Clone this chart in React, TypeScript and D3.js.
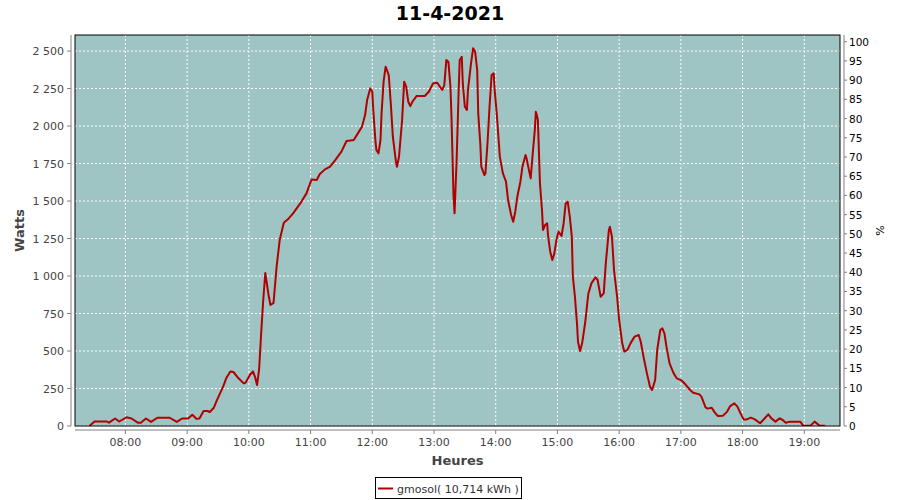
import React from "react";
import * as d3 from "d3";

const title = "11-4-2021";
const seriesName = "gmosol( 10,714 kWh )";

const times: string[] = [
  "07:25","07:30","07:42","07:44","07:50","07:54","08:01","08:06","08:12","08:15",
  "08:20","08:25","08:31","08:43","08:50","08:55","09:01","09:05","09:09","09:12",
  "09:16","09:20","09:22","09:26","09:29","09:35","09:38","09:42","09:45","09:50",
  "09:55","09:57","10:01","10:04","10:06","10:08","10:10","10:12","10:14","10:16",
  "10:19","10:21","10:24","10:27","10:30","10:34","10:38","10:43","10:50","10:56",
  "11:01","11:06","11:09","11:14","11:19","11:24","11:30","11:35","11:42","11:46",
  "11:50","11:53","11:55","11:58","12:00","12:01","12:03","12:04","12:06","12:08",
  "12:09","12:11","12:13","12:16","12:18","12:20","12:23","12:24","12:26","12:29",
  "12:31","12:33","12:35","12:37","12:39","12:43","12:51","12:55","12:59","13:03",
  "13:08","13:10","13:12","13:14","13:16","13:17","13:19","13:20","13:22","13:24",
  "13:25","13:27","13:28","13:30","13:32","13:33","13:36","13:38","13:40","13:42",
  "13:43","13:45","13:46","13:49","13:50","13:52","13:54","13:56","13:58","13:59",
  "14:01","14:04","14:07","14:10","14:12","14:15","14:17","14:19","14:21","14:24",
  "14:26","14:29","14:30","14:33","14:34","14:36","14:38","14:39","14:40","14:41",
  "14:43","14:45","14:46","14:48","14:50","14:51","14:53","14:55","14:57","14:59",
  "15:01","15:04","15:06","15:08","15:10","15:12","15:14","15:15","15:17","15:19",
  "15:20","15:22","15:24","15:27","15:30","15:33","15:37","15:39","15:42","15:45",
  "15:47","15:50","15:51","15:53","15:55","15:58","16:00","16:03","16:05","16:08",
  "16:11","16:15","16:19","16:21","16:24","16:27","16:30","16:32","16:35","16:37",
  "16:40","16:42","16:44","16:46","16:49","16:53","16:56","17:01","17:05","17:09",
  "17:12","17:18","17:20","17:24","17:26","17:30","17:33","17:36","17:41","17:45",
  "17:48","17:52","17:55","17:58","18:01","18:04","18:08","18:12","18:17","18:20",
  "18:25","18:28","18:32","18:36","18:39","18:42","18:46","18:56","18:59","19:06",
  "19:10","19:15","19:20"
];

const watts: number[] = [
  0, 30, 30, 22, 50, 30, 58, 50, 22, 22,
  50, 27, 55, 55, 27, 50, 50, 75, 48, 50,
  100, 100, 93, 122, 173, 262, 318, 364, 360, 318,
  284, 290, 340, 364, 328, 273, 380, 620, 840, 1020,
  880, 807, 820, 1062, 1240, 1355, 1378, 1418, 1484, 1551,
  1644, 1640, 1680, 1711, 1729, 1773, 1829, 1900, 1907, 1951,
  1996, 2073, 2173, 2251, 2229, 2107, 1907, 1840, 1818, 1907,
  2084, 2296, 2396, 2340, 2151, 1929, 1762, 1729, 1796, 2040,
  2296, 2262, 2162, 2133, 2162, 2200, 2200, 2229, 2284, 2289,
  2240, 2273, 2440, 2429, 2262, 2062, 1529, 1418, 1773, 2240,
  2440, 2462, 2284, 2129, 2107, 2240, 2418, 2518, 2496, 2373,
  2084, 1885, 1729, 1673, 1684, 1885, 2129, 2340, 2351, 2240,
  2084, 1796, 1684, 1629, 1507, 1407, 1362, 1429, 1529, 1629,
  1729, 1807, 1784, 1684, 1651, 1818, 1973, 2095, 2073, 2040,
  1618, 1440, 1307, 1340, 1351, 1262, 1162, 1107, 1151, 1240,
  1296, 1267, 1351, 1484, 1496, 1396, 1262, 996, 862, 684,
  562, 500, 551, 690, 880, 951, 991, 975, 862, 884,
  1084, 1307, 1329, 1262, 1040, 862, 707, 551, 496, 507,
  551, 596, 607, 562, 451, 351, 262, 240, 307, 507,
  640, 651, 618, 529, 418, 351, 318, 302, 273, 240,
  222, 211, 196, 124, 116, 122, 89, 67, 69, 96,
  133, 151, 129, 84, 44, 44, 56, 44, 18, 40,
  78, 51, 29, 51, 40, 22, 29, 29, 2, 2,
  29, 2, 2
];

const leftTicks: number[] = [0, 250, 500, 750, 1000, 1250, 1500, 1750, 2000, 2250, 2500];
const rightTicks: number[] = [0, 5, 10, 15, 20, 25, 30, 35, 40, 45, 50, 55, 60, 65, 70, 75, 80, 85, 90, 95, 100];

const toDate = (s: string) => {
  const [h, m] = s.split(":").map(Number);
  return new Date(2021, 3, 11, h, m, 0);
};

export default function App() {
  const W = 900, H = 500;
  const left = 75, right = 840, top = 35, bottom = 426;

  const x = d3.scaleTime()
    .domain([new Date(2021, 3, 11, 7, 11, 0), new Date(2021, 3, 11, 19, 34, 42)])
    .range([left, right]);
  const y = d3.scaleLinear().domain([0, 2607]).range([bottom, top]);
  const y2 = d3.scaleLinear().domain([0, 101.74]).range([bottom, top]);

  const xTicks = x.ticks(d3.timeHour.every(1) as any);
  const fmtX = d3.timeFormat("%H:%M");
  const fmtY = (v: number) => d3.format(",")(v).replace(/,/g, " ");

  const data = times.map((t, i) => ({ t: toDate(t), v: watts[i] }));
  const line = d3.line<{ t: Date; v: number }>()
    .x((d) => x(d.t))
    .y((d) => y(d.v));

  const tickFont = "DejaVu Sans, sans-serif";

  return (
    <svg width={W} height={H} style={{ position: "absolute", left: 0, top: 0, background: "#fff" }}>
      <text x={450} y={20} textAnchor="middle" fontFamily={tickFont} fontWeight="bold" fontSize={19} fill="#000">
        {title}
      </text>

      <rect x={left} y={top} width={right - left} height={bottom - top} fill="rgb(158,196,196)" />

      {xTicks.map((t, i) => (
        <line key={"gx" + i} x1={x(t)} x2={x(t)} y1={top} y2={bottom} stroke="#fff" strokeWidth={1} strokeDasharray="2,2" />
      ))}
      {leftTicks.map((v, i) => (
        <line key={"gy" + i} x1={left} x2={right} y1={y(v)} y2={y(v)} stroke="#fff" strokeWidth={1} strokeDasharray="2,2" />
      ))}

      <clipPath id="plotclip">
        <rect x={left} y={top} width={right - left} height={bottom - top} />
      </clipPath>
      <path d={line(data) || ""} fill="none" stroke="rgb(178,0,0)" strokeWidth={2} strokeLinejoin="round" clipPath="url(#plotclip)" />

      <rect x={left} y={top} width={right - left} height={bottom - top} fill="none" stroke="#000" strokeWidth={1} />

      {/* left axis */}
      <line x1={71} x2={71} y1={top} y2={bottom} stroke="#808080" strokeWidth={1} />
      {leftTicks.map((v, i) => (
        <g key={"ly" + i}>
          <line x1={67} x2={71} y1={y(v)} y2={y(v)} stroke="#808080" />
          <text x={64} y={y(v) + 4} textAnchor="end" fontFamily={tickFont} fontSize={11} fill="#444">
            {fmtY(v)}
          </text>
        </g>
      ))}
      <text transform={`translate(24,${(top + bottom) / 2}) rotate(-90)`} textAnchor="middle" fontFamily={tickFont} fontWeight="bold" fontSize={13} fill="#444">
        Watts
      </text>

      {/* right axis */}
      <line x1={844} x2={844} y1={top} y2={bottom} stroke="#808080" strokeWidth={1} />
      {rightTicks.map((v, i) => (
        <g key={"ry" + i}>
          <line x1={844} x2={847} y1={y2(v)} y2={y2(v)} stroke="#808080" />
          <text x={849} y={y2(v) + 4} textAnchor="start" fontFamily={tickFont} fontSize={10.5} fill="#000">
            {v}
          </text>
        </g>
      ))}
      <text transform={`translate(884,${(top + bottom) / 2}) rotate(-90)`} textAnchor="middle" fontFamily={tickFont} fontSize={11} fill="#000">
        %
      </text>

      {/* bottom axis */}
      <line x1={left} x2={right} y1={430} y2={430} stroke="#808080" strokeWidth={1} />
      {xTicks.map((t, i) => (
        <g key={"lx" + i}>
          <line x1={x(t)} x2={x(t)} y1={430} y2={434} stroke="#808080" />
          <text x={x(t)} y={446} textAnchor="middle" fontFamily={tickFont} fontSize={11} fill="#444">
            {fmtX(t)}
          </text>
        </g>
      ))}
      <text x={(left + right) / 2} y={465} textAnchor="middle" fontFamily={tickFont} fontWeight="bold" fontSize={13} fill="#444">
        Heures
      </text>

      {/* legend */}
      <rect x={375.5} y={477.5} width={146} height={21} fill="#fff" stroke="#000" strokeWidth={1} />
      <line x1={378} x2={393} y1={488.5} y2={488.5} stroke="rgb(178,0,0)" strokeWidth={2} />
      <text x={397} y={492.5} fontFamily={tickFont} fontSize={11} fill="#333">
        {seriesName}
      </text>
    </svg>
  );
}
